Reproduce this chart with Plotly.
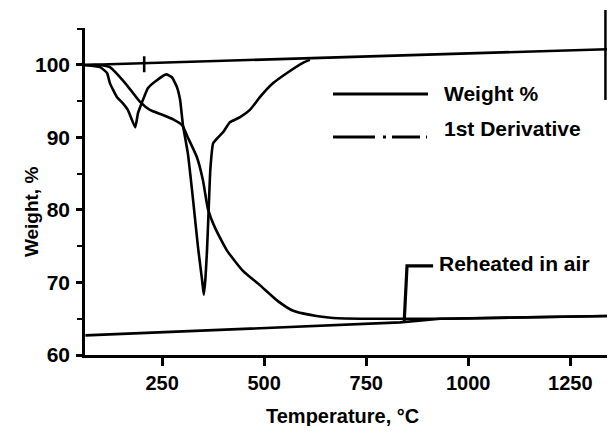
import plotly.graph_objects as go

# ---- data ----
temp_weight = [61, 98, 122, 164, 196, 220, 252, 277, 299, 313, 335, 350, 362, 380, 409, 448,
               490, 532, 571, 637, 669, 752, 840, 955, 1150, 1355]
weight = [100, 100, 99.7, 97.2, 94.9, 93.8, 93.1, 92.5, 91.7, 90.0, 87.3, 84.1, 80.2, 77.5, 74.4, 71.6,
          69.6, 67.5, 66.1, 65.3, 65.1, 65.0, 65.0, 65.0, 65.2, 65.4]

temp_deriv = [61, 98, 115, 122, 139, 154, 166, 184, 191, 201, 215, 237, 260, 274, 286, 294, 301,
              313, 326, 338, 348, 352, 356, 360, 364, 368, 375, 387, 399, 416, 441, 465, 490,
              522, 556, 595, 612]
deriv = [100, 99.7, 98.9, 97.5, 95.6, 94.7, 93.8, 91.4, 93.4, 94.9, 96.8, 97.9, 98.7, 98.3, 97.0,
         95.2, 91.7, 87.8, 81.3, 74.8, 70.3, 68.3, 70.5, 74.5, 80.0, 85.5, 89.2, 90.0, 90.7,
         92.1, 92.8, 93.8, 95.6, 97.5, 98.9, 100.3, 100.7]

temp_base = [61, 1355]
base = [100, 102.2]
base_mark_t = [206, 206]
base_mark_w = [99.0, 101.2]

temp_reheat = [62, 784, 833, 931, 1355]
reheat = [62.7, 64.3, 64.5, 65.0, 65.4]

leader_t = [914, 850, 843]
leader_w = [72.3, 72.3, 64.5]

x_ticks = [250, 500, 750, 1000, 1250]
y_ticks = [60, 70, 80, 90, 100]

FONT = "Liberation Sans"
LW = 2.6

fig = go.Figure()
line_style = dict(color="black", width=LW)
fig.add_trace(go.Scatter(x=temp_base, y=base, mode="lines", line=line_style))
fig.add_trace(go.Scatter(x=base_mark_t, y=base_mark_w, mode="lines", line=line_style))
fig.add_trace(go.Scatter(x=temp_reheat, y=reheat, mode="lines", line=line_style))
fig.add_trace(go.Scatter(x=temp_weight, y=weight, mode="lines",
                         line=dict(color="black", width=LW, shape="spline", smoothing=0.5),
                         name="Weight %"))
fig.add_trace(go.Scatter(x=temp_deriv, y=deriv, mode="lines",
                         line=dict(color="black", width=LW, shape="spline", smoothing=0.4),
                         name="1st Derivative"))
fig.add_trace(go.Scatter(x=leader_t, y=leader_w, mode="lines",
                         line=dict(color="black", width=3.2)))

bold = dict(family=FONT, color="black", weight="bold")

# plot area spans 522 px (85..607 in the page)
PW = 522.0
def px(xp):
    return (xp - 85) / PW

# hand-drawn style legend
fig.add_shape(type="line", xref="paper", yref="paper", x0=px(333), x1=px(428), y0=0.798, y1=0.798,
              line=dict(color="black", width=3))
fig.add_shape(type="line", xref="paper", yref="paper", x0=px(333), x1=px(427), y0=0.667, y1=0.667,
              line=dict(color="black", width=3, dash="42px,8px,3px,6px,28px,6px,3px"))
fig.add_annotation(xref="paper", yref="paper", x=px(442), y=0.80, text="Weight %",
                   showarrow=False, xanchor="left", yanchor="middle", font=dict(size=21, **bold))
fig.add_annotation(xref="paper", yref="paper", x=px(442), y=0.694, text="1st Derivative",
                   showarrow=False, xanchor="left", yanchor="middle", font=dict(size=21, **bold))
fig.add_annotation(x=924, y=72.6, text="Reheated in air", showarrow=False,
                   xanchor="left", yanchor="middle", font=dict(size=21, **bold))

# axis titles
fig.add_annotation(xref="paper", yref="paper", x=px(31), y=0.437, text="Weight, %",
                   textangle=-90, showarrow=False, xanchor="center", yanchor="middle",
                   font=dict(size=19, **bold))
fig.add_annotation(xref="paper", yref="paper", x=px(342), y=-0.186, text="Temperature, °C",
                   showarrow=False, xanchor="center", yanchor="middle",
                   font=dict(size=20, **bold))

# partial right frame edge
fig.add_shape(type="line", xref="paper", yref="paper", x0=0.997, x1=0.997, y0=0.78, y1=1.055,
              line=dict(color="black", width=2.5))

fig.update_xaxes(range=[61, 1340], tickvals=x_ticks, ticks="outside", ticklen=8, tickwidth=2.5,
                 tickcolor="black", showline=True, linecolor="black", linewidth=2.6,
                 showgrid=False, zeroline=False, ticklabelstandoff=0,
                 tickfont=dict(size=20, **bold))
fig.update_yaxes(range=[60, 105.1], tickvals=y_ticks, ticks="outside", ticklen=6, tickwidth=2.5,
                 tickcolor="black", showline=True, linecolor="black", linewidth=2.6,
                 showgrid=False, zeroline=False, ticklabelstandoff=2,
                 minor=dict(tickvals=[65, 75, 85, 95, 105], ticks="outside", ticklen=5,
                            tickwidth=2, tickcolor="black"),
                 tickfont=dict(size=21, **bold))

fig.update_layout(width=599, height=418, margin=dict(l=77, r=0, t=20, b=71),
                  paper_bgcolor="white", plot_bgcolor="white", showlegend=False)

fig.write_html("out.html")
